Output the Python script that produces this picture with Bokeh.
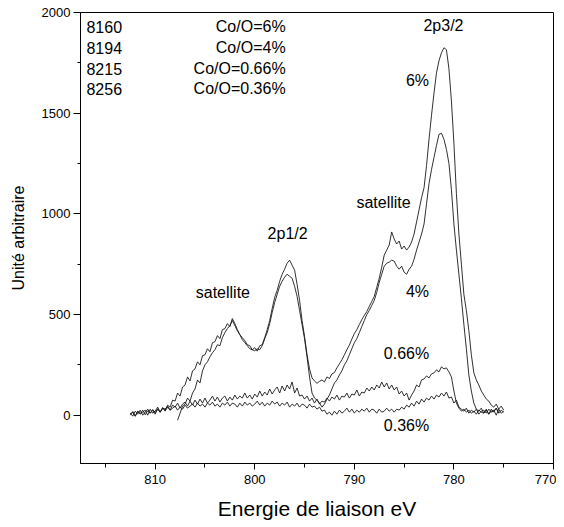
import numpy as np
from bokeh.plotting import figure
from bokeh.models import Range1d, SingleIntervalTicker, Label
from bokeh.embed import file_html
from bokeh.resources import INLINE

# ---------------- data (binding energy eV, arbitrary units) ----------------
STEP = 0.25

E0_6 = 812.5
Y_6 = [5, 18,
       -5, 20, 8, 25,
       2, 22, 10, 28,
       12, 32, 15, 38,
       25, 50, 40, 75,
       70, 110, 95, 140,
       150, 190, 170, 220,
       230, 265, 250, 295,
       300, 330, 315, 360,
       365, 395, 380, 425,
       430, 455, 440, 480,
       455, 425, 400, 385,
       370, 350, 345, 325,
       335, 318, 345, 350,
       385, 425, 470, 530,
       585, 620, 665, 700,
       725, 755, 770, 745,
       720, 650, 570, 470,
       390, 300, 230, 185,
       170, 158, 168, 175,
       165, 190, 182, 205,
       212, 235, 255, 275,
       300, 325, 348, 378,
       405, 425, 450, 475,
       495, 515, 540, 565,
       590, 635, 680, 735,
       795, 820, 845, 910,
       875, 850, 865, 825,
       840, 820, 835, 860,
       900, 960, 1020, 1080,
       1130, 1240, 1370, 1490,
       1600, 1700, 1760, 1800,
       1825, 1815, 1720, 1560,
       1350, 1100, 900, 750,
       600, 520, 420, 300,
       210, 175, 150, 120,
       100, 80, 70, 50,
       40, 55, 30, 45,
       25]

E0_4 = 807.75
Y_4 = [-25, 10, 45,
       55, 85, 70, 110,
       130, 175, 160, 220,
       250, 265, 290, 310,
       325, 350, 345, 385,
       410, 430, 445, 470,
       445, 420, 400, 375,
       360, 345, 330, 325,
       320, 330, 325, 345,
       380, 410, 455, 510,
       560, 600, 640, 665,
       685, 700, 690, 680,
       640, 590, 520, 450,
       380, 290, 190, 110,
       85, 75, 60, 40,
       55, 80, 100, 130,
       160, 175, 200, 220,
       250, 270, 300, 330,
       360, 380, 410, 440,
       470, 500, 520, 545,
       570, 610, 660, 700,
       740, 755, 760, 770,
       765, 740, 725, 740,
       710, 700, 725, 740,
       775, 820, 860, 900,
       950, 1050, 1150, 1220,
       1280, 1340, 1395, 1400,
       1370, 1320, 1250, 1120,
       950, 820, 700, 580,
       450, 330, 200, 120,
       60, 30, 20, 35,
       10, 25, 5, 30,
       15, 35, 10]

E0_066 = 812.5
Y_066 = [0, 15,
         -5, 20, 5, 15,
         25, 0, 30, 10,
         20, 40, 15, 35,
         30, 45, 25, 50,
         40, 60, 35, 55,
         65, 45, 70, 50,
         75, 55, 80, 60,
         85, 60, 75, 95,
         70, 90, 65, 85,
         95, 70, 90, 75,
         100, 80, 95, 85,
         110, 85, 100, 80,
         105, 90, 120, 95,
         115, 100, 130, 105,
         125, 140, 110, 145,
         120, 150, 130, 165,
         110, 135, 95, 100,
         80, 95, 70, 85,
         60, 80, 55, 70,
         65, 85, 70, 90,
         80, 100, 75, 95,
         90, 110, 85, 105,
         100, 125, 95, 115,
         110, 135, 120, 140,
         125, 150, 135, 165,
         140, 160, 130, 150,
         125, 140, 105, 120,
         95, 110, 75, 100,
         120, 150, 140, 175,
         180, 195, 185, 205,
         210, 225, 215, 240,
         230, 235, 215, 190,
         120, 60, 35, 20,
         30, 15, 25, 10,
         20, 5, 25, 15,
         10, 30, 5, 20,
         25, 0, 30, 10,
         20]

E0_036 = 812.5
Y_036 = [10, -5,
         20, 5, 25, 0,
         15, 30, 10, 25,
         5, 30, 15, 35,
         20, 40, 25, 35,
         45, 25, 40, 30,
         50, 35, 45, 55,
         40, 60, 45, 55,
         40, 60, 50, 65,
         45, 55, 40, 60,
         50, 65, 45, 60,
         55, 40, 60, 45,
         65, 50, 60, 45,
         55, 70, 50, 65,
         45, 60, 50, 70,
         55, 65, 45, 60,
         50, 65, 40, 55,
         45, 60, 40, 55,
         50, 35, 55, 40,
         45, 30, 40, 20,
         25, 5, 15, 0,
         20, 5, 25, 10,
         20, 35, 15, 30,
         10, 25, 15, 30,
         20, 35, 15, 30,
         25, 10, 30, 15,
         20, 35, 20, 30,
         15, 30, 25, 40,
         30, 50, 40, 60,
         45, 70, 55, 80,
         65, 85, 75, 95,
         80, 100, 90, 110,
         95, 115, 85, 90,
         60, 75, 40, 30,
         20, 35, 10, 25,
         15, 30, 5, 20,
         25, 10, 30, 15,
         20, 35, 10, 25,
         15]

SAMPLES = ["8160", "8194", "8215", "8256"]
RATIOS = ["Co/O=6%", "Co/O=4%", "Co/O=0.66%", "Co/O=0.36%"]

FONT = "Liberation Sans"

# ---------------- figure ----------------
p = figure(width=556, height=523, output_backend="svg", toolbar_location=None,
           x_range=Range1d(817.5, 770), y_range=Range1d(-240, 2000),
           min_border_left=80, min_border_right=3, min_border_top=12,
           min_border_bottom=60)
p.xgrid.visible = False
p.ygrid.visible = False
p.outline_line_color = "black"
p.outline_line_width = 1
p.background_fill_color = "white"
p.border_fill_color = "white"

p.xaxis.ticker = SingleIntervalTicker(interval=10, num_minor_ticks=2)
p.yaxis.ticker = SingleIntervalTicker(interval=500, num_minor_ticks=2)
for ax in (p.xaxis, p.yaxis):
    ax.axis_line_color = "black"
    ax.major_tick_line_color = "black"
    ax.minor_tick_line_color = "black"
    ax.major_tick_in = 0
    ax.minor_tick_in = 0
    ax.major_label_text_font = FONT
    ax.major_label_text_font_size = "13px"
    ax.major_label_text_color = "black"
    ax.axis_label_text_font = FONT
    ax.axis_label_text_font_style = "normal"
    ax.axis_label_text_color = "black"
p.xaxis.major_tick_out = 6
p.xaxis.minor_tick_out = 4
p.yaxis.major_tick_out = 7
p.yaxis.minor_tick_out = 3
p.yaxis.major_label_standoff = 3
p.xaxis.major_label_standoff = 5
p.xaxis.axis_label = "Energie de liaison eV"
p.xaxis.axis_label_text_font_size = "21px"
p.xaxis.axis_label_standoff = 10
p.yaxis.axis_label = "Unité arbitraire"
p.yaxis.axis_label_text_font_size = "16px"
p.yaxis.axis_label_standoff = 12

for e0, ys in ((E0_6, Y_6), (E0_4, Y_4), (E0_066, Y_066), (E0_036, Y_036)):
    xs = e0 - STEP * np.arange(len(ys))
    p.line(xs, ys, line_color="#1a1a1a", line_width=0.9)

# sample / ratio block
rows_y = [1930, 1826, 1720, 1622]
for s, r, yy in zip(SAMPLES, RATIOS, rows_y):
    p.add_layout(Label(x=816.9, y=yy, text=s, text_font=FONT, text_font_size="16px",
                       text_align="left", text_baseline="middle", text_color="black"))
    p.add_layout(Label(x=796.9, y=yy, text=r, text_font=FONT, text_font_size="16px",
                       text_align="right", text_baseline="middle", text_color="black"))

annotations = [
    ("2p3/2", 781.05, 1935),
    ("6%", 783.66, 1662),
    ("satellite", 787.07, 1055),
    ("2p1/2", 796.7, 900),
    ("satellite", 803.2, 609),
    ("4%", 783.66, 612),
    ("0.66%", 784.76, 308),
    ("0.36%", 784.76, -50),
]
for t, xx, yy in annotations:
    p.add_layout(Label(x=xx, y=yy, text=t, text_font=FONT, text_font_size="16px",
                       text_align="center", text_baseline="middle", text_color="black"))

open("out.html", "w").write(file_html(p, INLINE))
